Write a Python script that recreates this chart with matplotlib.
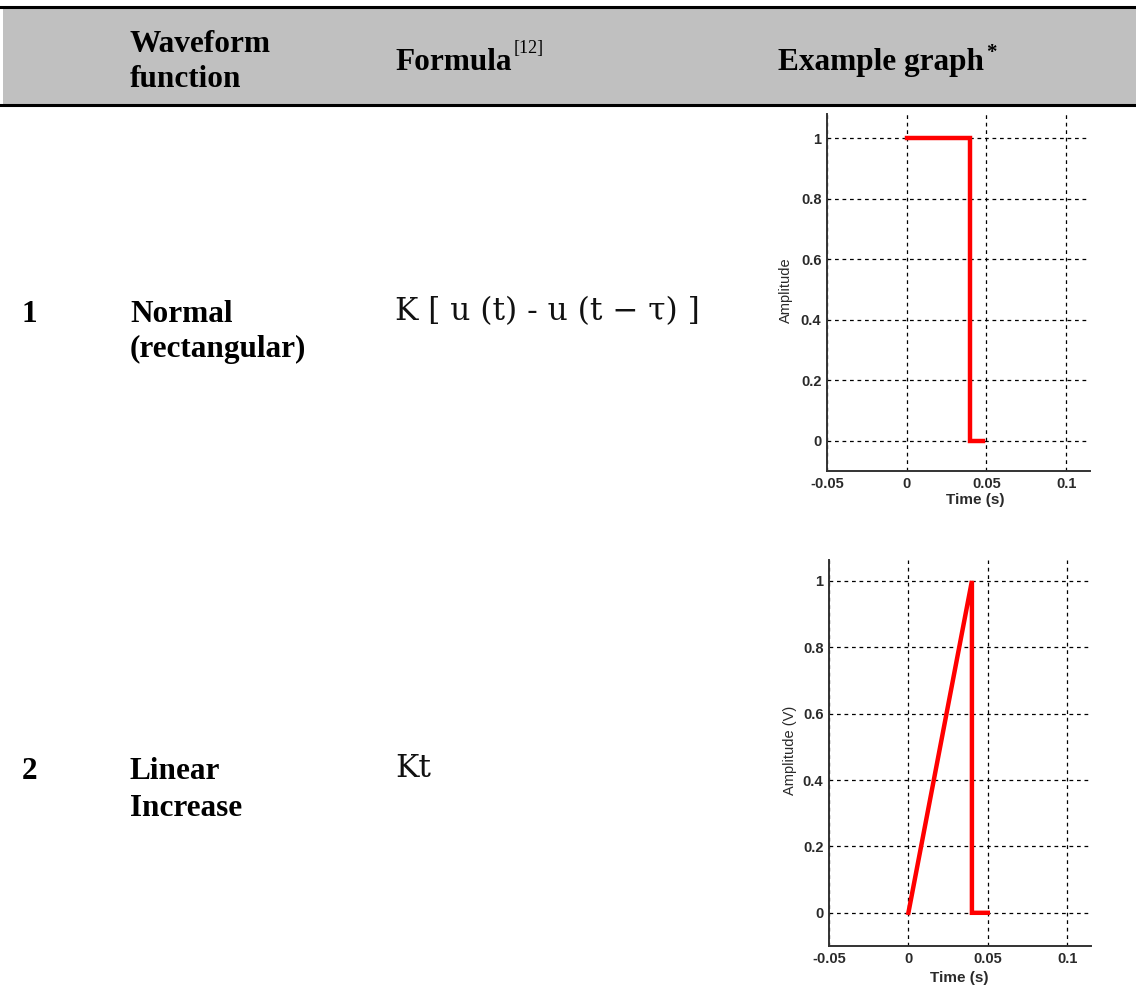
import numpy as np
import matplotlib
matplotlib.use('Agg')
import matplotlib.pyplot as plt
from matplotlib.patches import Rectangle
from matplotlib.lines import Line2D

W, H = 1136, 993

# table content
header = ['Waveform\nfunction', 'Formula', 'Example graph']
row_nums = ['1', '2']
row_names = ['Normal\n(rectangular)', 'Linear\nIncrease']
row_formulas = ['K [ u (t) - u (t − τ) ]', 'Kt']

# waveform samples (time in s, amplitude)
rect_t = [0, 0.04, 0.04, 0.048]
rect_amp = [1, 1, 0, 0]
ramp_t = [0, 0.04, 0.04, 0.05]
ramp_amp = [0, 1, 0, 0]

xticks = [-0.05, 0, 0.05, 0.1]
xticklabels = ['-0.05', '0', '0.05', '0.1']
yticks = [0, 0.2, 0.4, 0.6, 0.8, 1]
yticklabels = ['0', '0.2', '0.4', '0.6', '0.8', '1']
ylabels = ['Amplitude', 'Amplitude (V)']


def px(x, y):
    return x / W, 1 - y / H


def ftext(x, y, s, **kw):
    fx, fy = px(x, y)
    fig.text(fx, fy, s, **kw)


fig = plt.figure(figsize=(W / 100, H / 100), dpi=100)

# header band
fig.patches.append(Rectangle(px(3, 105), (W - 3) / W, 98 / H, transform=fig.transFigure,
                             facecolor='#c0c0c0', edgecolor='none', zorder=0))
for yl in (7, 105):
    fig.lines.append(Line2D([0, 1], [px(0, yl)[1]] * 2, transform=fig.transFigure,
                            color='black', lw=2.2))

serif = dict(family='Liberation Serif', weight='bold', color='black', fontsize=22.5)
ftext(130, 52, header[0].split('\n')[0], va='baseline', **serif)
ftext(130, 87, header[0].split('\n')[1], va='baseline', **serif)
ftext(395, 70, header[1], va='baseline', **serif)
ftext(514, 53, '[12]', va='baseline', family='Liberation Serif', fontsize=13, color='black')
ftext(778, 70, header[2], va='baseline', **serif)
ftext(986, 58, '*', va='baseline', family='Liberation Serif', weight='bold', fontsize=15, color='black')

name_y = [(322, 357), (779, 816)]
for i in range(2):
    ftext(22, name_y[i][0], row_nums[i], va='baseline', **serif)
    l1, l2 = row_names[i].split('\n')
    ftext(130, name_y[i][0], l1, va='baseline', **serif)
    ftext(130, name_y[i][1], l2, va='baseline', **serif)
    ftext(395, name_y[i][0] - 2, row_formulas[i], va='baseline', family='DejaVu Serif',
          fontsize=22.5, color='#111111')

# example graphs
boxes = [(827, 114, 1090, 471), (829, 560, 1091, 946)]
ylims = [(-0.1, 1.08), (-0.1, 1.063)]
xlab_pos = [(0.563, -0.081), (0.496, -0.083)]
ylab_pos = [(-0.156, 0.507), (-0.15, 0.508)]
series = [(rect_t, rect_amp), (ramp_t, ramp_amp)]

for i, (x0, y0, x1, y1) in enumerate(boxes):
    ax = fig.add_axes([x0 / W, 1 - y1 / H, (x1 - x0) / W, (y1 - y0) / H])
    t, a = series[i]
    ax.plot(t, a, color='red', lw=3.2, solid_joinstyle='miter', zorder=3)
    ax.set_xlim(-0.05, 0.115)
    ax.set_ylim(*ylims[i])
    ax.set_xticks(xticks)
    ax.set_xticklabels(xticklabels)
    ax.set_yticks(yticks)
    ax.set_yticklabels(yticklabels)
    ax.grid(True, color='black', linestyle=(0, (3, 3)), lw=0.9)
    for s in ('top', 'right'):
        ax.spines[s].set_visible(False)
    for s in ('left', 'bottom'):
        ax.spines[s].set_color('#333333')
        ax.spines[s].set_linewidth(1.4)
    ax.tick_params(length=0, pad=4, labelsize=10.5, labelcolor='#2a2a2a')
    for lab in ax.get_xticklabels() + ax.get_yticklabels():
        lab.set_family('Liberation Sans')
        lab.set_weight('bold')
    ax.set_xlabel('Time (s)', fontsize=11, family='Liberation Sans', weight='bold', color='#2a2a2a')
    ax.set_ylabel(ylabels[i], fontsize=10.5, family='Liberation Sans', color='#2a2a2a')
    ax.xaxis.set_label_coords(*xlab_pos[i])
    ax.yaxis.set_label_coords(*ylab_pos[i])
    ax.xaxis.label.set_va('center')
    ax.yaxis.label.set_va('center')

fig.savefig('out.png', dpi=100, facecolor='white')
